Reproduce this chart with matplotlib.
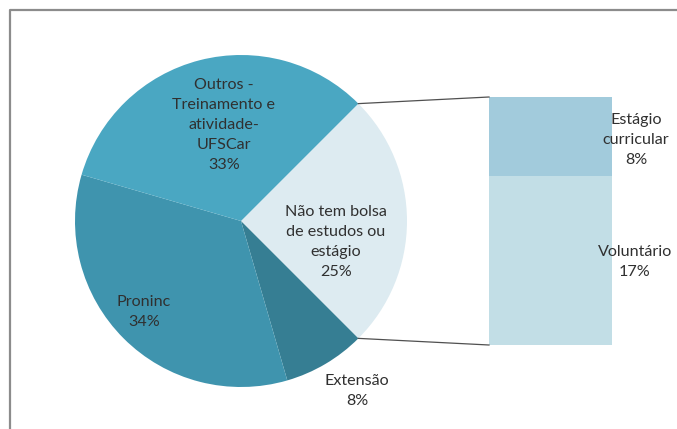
import matplotlib
matplotlib.use("Agg")
import matplotlib.pyplot as plt
from matplotlib.lines import Line2D
import numpy as np

# ---- data ----
pie_labels = ["Não tem bolsa\nde estudos ou\nestágio", "Extensão", "Proninc",
              "Outros -\nTreinamento e\natividade-\nUFSCar"]
pie_values = [25, 8, 34, 33]
bar_labels = ["Voluntário", "Estágio\ncurricular"]
bar_values = [17, 8]

# ---- style ----
pie_colors = ["#DDEBF1", "#367E93", "#3F94AE", "#4AA7C2"]
bar_colors = ["#C2DEE6", "#A2CBDC"]
text_color = "#303030"
plt.rcParams['font.family'] = ['Lato', 'DejaVu Sans']

W, H = 677, 429
fig = plt.figure(figsize=(W / 100, H / 100), dpi=100)
ax = fig.add_axes([0, 0, 1, 1])

cx, cy, r = 241, H - 221, 166
start = 45
ax.pie(pie_values, colors=pie_colors, startangle=start, counterclock=False,
       center=(cx, cy), radius=r, frame=True,
       wedgeprops=dict(linewidth=0))
ax.set_xlim(0, W)
ax.set_ylim(0, H)
ax.set_aspect('equal')
ax.axis('off')

fs = 11.6
ls = 1.55

# pie labels
label_pos = [(336, 242), (357, 391), (144, 312), (224, 125)]
for lab, v, (x, y) in zip(pie_labels, pie_values, label_pos):
    ax.text(x, H - y, f"{lab}\n{v}%", ha='center', va='center', fontsize=fs,
            color=text_color, linespacing=ls)

# bar of pie
bx, bw, bbot, btop = 489, 123, H - 345, H - 97
total = sum(bar_values)
scale = (btop - bbot) / total
bottom = bbot
bar_label_pos = [(635, 262), (636, 140)]
for lab, v, c, (tx, ty) in zip(bar_labels, bar_values, bar_colors, bar_label_pos):
    ax.bar(bx + bw / 2, v * scale, width=bw, bottom=bottom, color=c, linewidth=0)
    bottom += v * scale
    ax.text(tx, H - ty, f"{lab}\n{v}%", ha='center', va='center', fontsize=fs,
            color=text_color, linespacing=ls)

# connector lines
a1 = np.deg2rad(start)
a2 = np.deg2rad(start - 360 * pie_values[0] / sum(pie_values))
ax.plot([cx + r * np.cos(a1), bx], [cy + r * np.sin(a1), btop], color="#505050", lw=0.9)
ax.plot([cx + r * np.cos(a2), bx], [cy + r * np.sin(a2), bbot], color="#505050", lw=0.9)

# outer frame (partially visible)
fig.add_artist(Line2D([10 / W, 10 / W, 1], [0, 1 - 10 / H, 1 - 10 / H],
                      transform=fig.transFigure, color="#8C8C8C", lw=1.6))

fig.savefig("out.png", dpi=100)
